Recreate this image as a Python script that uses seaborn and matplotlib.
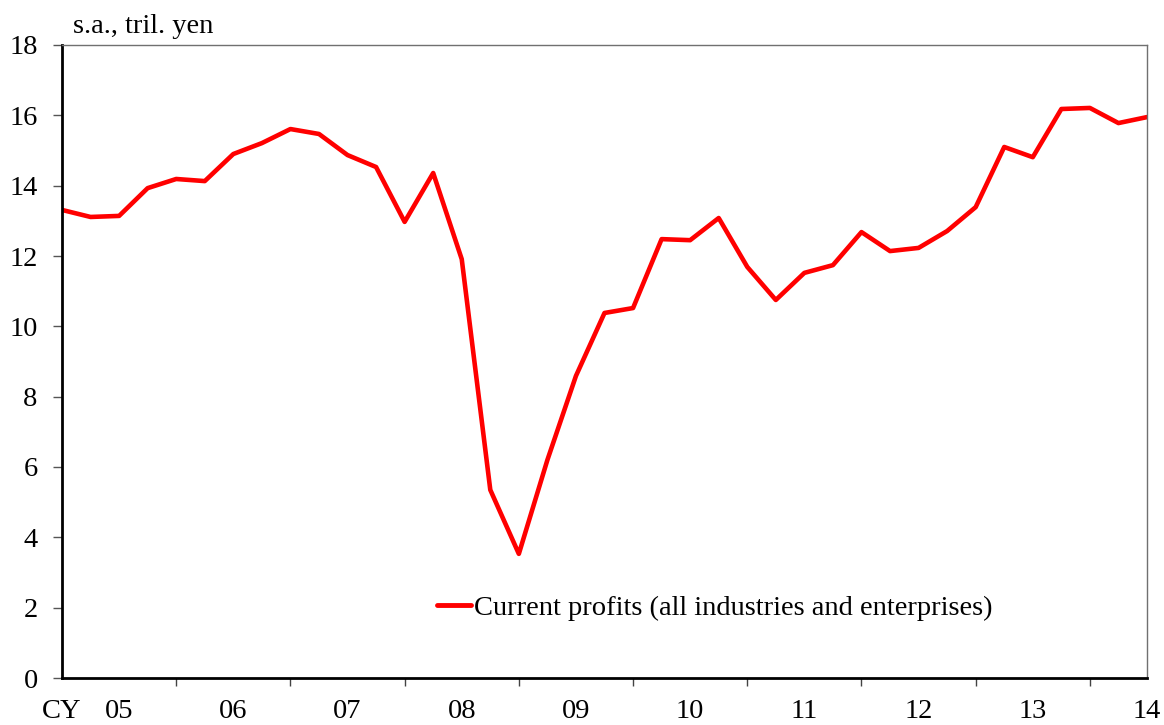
import matplotlib
matplotlib.use("Agg")
import matplotlib.pyplot as plt
import seaborn as sns
import pandas as pd
import numpy as np

# Quarterly data, 2005Q1 .. 2014Q3
quarters = [f"{y}Q{q}" for y in range(2005, 2015) for q in range(1, 5)][:39]
profits = [13.31, 13.11, 13.14, 13.93, 14.19, 14.13, 14.90, 15.21, 15.61, 15.47,
           14.87, 14.53, 12.97, 14.36, 11.91, 5.35, 3.53, 6.20, 8.59, 10.38,
           10.52, 12.48, 12.45, 13.08, 11.69, 10.75, 11.52, 11.74, 12.68, 12.14,
           12.23, 12.71, 13.39, 15.10, 14.81, 16.18, 16.21, 15.78, 15.95]
year_labels = ["CY", "05", "06", "07", "08", "09", "10", "11", "12", "13", "14"]
series_name = "Current profits (all industries and enterprises)"
y_ticks = [0, 2, 4, 6, 8, 10, 12, 14, 16, 18]

sns.set_style("white")
plt.rcParams["font.family"] = ["Liberation Serif", "DejaVu Serif"]
plt.rcParams["text.color"] = "black"
plt.rcParams["xtick.color"] = "black"
plt.rcParams["ytick.color"] = "black"

df = pd.DataFrame({"idx": np.arange(len(profits)), "value": profits,
                   "series": series_name})

fig = plt.figure(figsize=(11.64, 7.25), dpi=100)
ax = fig.add_axes([62/1164, 1 - 678/725, (1147 - 62)/1164, (678 - 45)/725])

sns.lineplot(data=df, x="idx", y="value", hue="series", palette=["#ff0000"],
             linewidth=3.3, ax=ax, legend=True)

ax.set_xlim(0, 38)
ax.set_ylim(0, 18)
ax.set_yticks(y_ticks)
ax.set_yticklabels([str(v) for v in y_ticks], fontsize=20.5)
major_pos = [0] + [2 + 4 * k for k in range(10)]
ax.set_xticks(major_pos)
ax.set_xticklabels(year_labels, fontsize=20.5)
ax.set_xticks([4 * k for k in range(10)], minor=True)
ax.tick_params(axis="x", which="major", bottom=True, length=0, pad=15,
               labelcolor="black")
ax.tick_params(axis="x", which="minor", bottom=True, length=6, width=1,
               color="#444444", direction="out")
ax.tick_params(axis="y", left=True, length=6.5, width=1, color="#555555",
               direction="out", pad=11, labelcolor="black")
ax.set_xlabel("")
ax.set_ylabel("")

for s in ["left", "bottom"]:
    ax.spines[s].set_color("black")
    ax.spines[s].set_linewidth(2)
for s in ["top", "right"]:
    ax.spines[s].set_color("#707070")
    ax.spines[s].set_linewidth(1)

ax.text(73/1164, 1 - 33/725, "s.a., tril. yen", transform=fig.transFigure,
        fontsize=20.5, ha="left", va="baseline", color="black")

leg = ax.legend(loc="center left", bbox_to_anchor=((437 - 62)/1085, (678 - 608)/633),
                frameon=False, fontsize=20.5, handlelength=1.2, handletextpad=0.1,
                borderpad=0, borderaxespad=0)
for t in leg.get_texts():
    t.set_color("black")
for line in leg.get_lines():
    line.set_linewidth(3.5)

fig.savefig("out.png", dpi=100)
